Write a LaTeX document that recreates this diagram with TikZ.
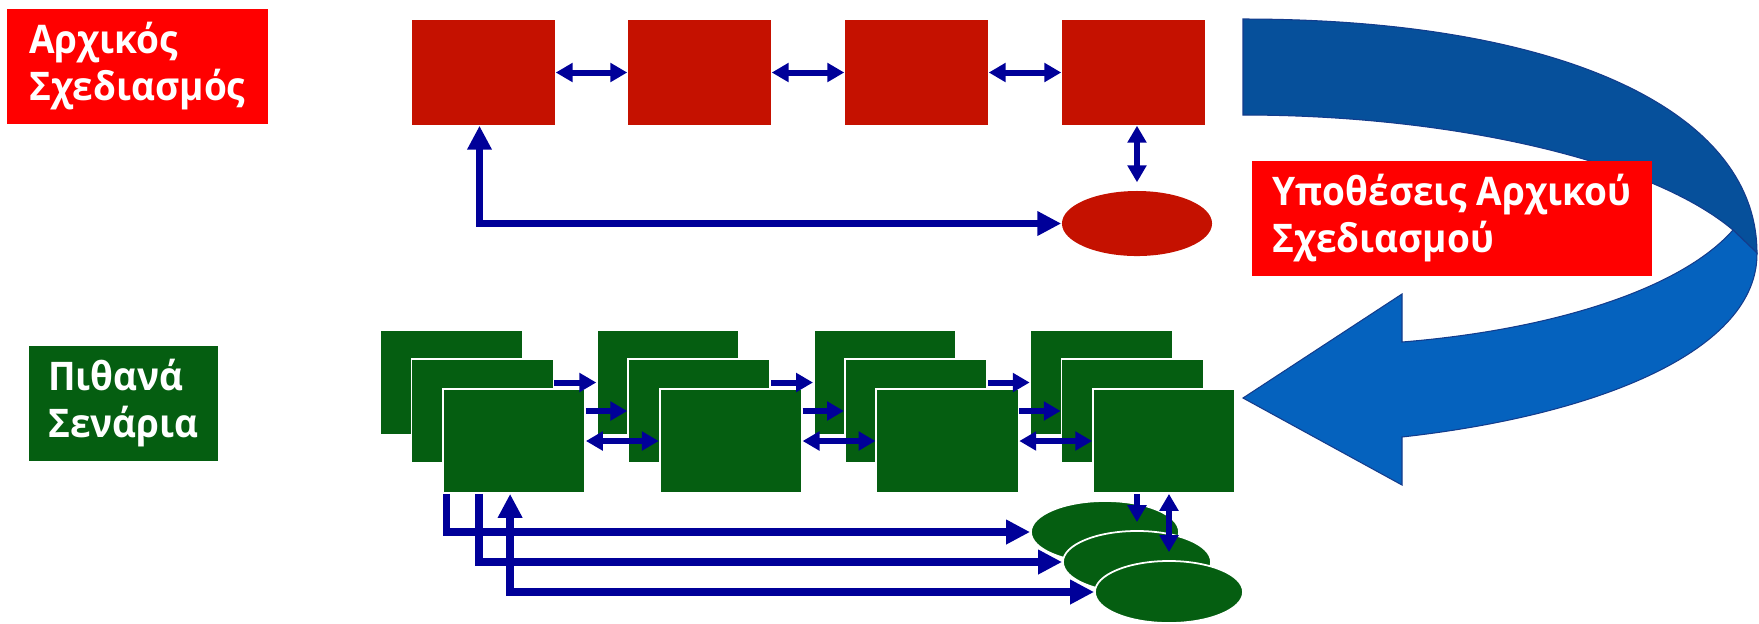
\documentclass[tikz,border=0pt]{standalone}
\usepackage{fontspec}
\setmainfont{Open Sans}[FakeStretch=0.94]
\usepackage{tikz}
\usetikzlibrary{arrows.meta,shapes.geometric}

\definecolor{navy}{RGB}{0,0,153}
\definecolor{lblred}{RGB}{255,0,0}
\definecolor{boxred}{RGB}{197,17,0}
\definecolor{scngreen}{RGB}{5,94,17}
\definecolor{banddark}{RGB}{6,80,155}
\definecolor{bandlight}{RGB}{5,98,190}
\definecolor{bandline}{RGB}{20,60,140}

\tikzset{
  redbox/.style={rectangle,fill=boxred,minimum width=1.43cm,minimum height=1.05cm,inner sep=0pt},
  grnbox/.style={rectangle,fill=scngreen,draw=white,line width=0.5pt,minimum width=1.42cm,minimum height=1.04cm,inner sep=0pt},
  redell/.style={ellipse,fill=boxred,minimum width=1.5cm,minimum height=0.65cm,inner sep=0pt},
  grnell/.style={ellipse,fill=scngreen,draw=white,line width=0.5pt,minimum width=1.48cm,minimum height=0.62cm,inner sep=0pt},
  lbl/.style={anchor=north west,text=white,align=left,inner sep=0pt,minimum height=1.15cm,
    font=\bfseries\fontsize{11.2}{13.4}\selectfont},
  arr/.style={draw=navy,line width=1.7pt,-{Triangle[length=4.8pt,width=5.2pt]}},
  darr/.style={draw=navy,line width=1.7pt,{Triangle[length=4.8pt,width=5.2pt]}-{Triangle[length=4.8pt,width=5.2pt]}},
  barr/.style={draw=navy,line width=2.2pt,-{Triangle[length=6.8pt,width=6.6pt]}},
  dbarr/.style={draw=navy,line width=2.2pt,{Triangle[length=6.8pt,width=6.6pt]}-{Triangle[length=6.8pt,width=6.6pt]}}
}

\begin{document}
\begin{tikzpicture}[x=0.01cm,y=-0.01cm]
  \useasboundingbox (0,0) rectangle (1759,623);

  % U-turn arrow
  \filldraw[fill=banddark,draw=bandline,line width=0.3pt] (1243,19) .. controls (1560,19) and (1757,110) .. (1757,253)
    -- (1733,230) .. controls (1650,160) and (1450,115) .. (1243,115) -- cycle;
  \filldraw[fill=bandlight,draw=bandline,line width=0.3pt] (1733,230) .. controls (1680,290) and (1550,330) .. (1402,342)
    -- (1402,294) -- (1243,398) -- (1402,485) -- (1402,437)
    .. controls (1600,415) and (1758,350) .. (1757,253) -- cycle;

  \node[lbl,fill=lblred,minimum width=2.61cm] (lblA) at (6,8) {Αρχικός\\Σχεδιασμός};
  \node[lbl,fill=lblred,minimum width=4.00cm] (lblB) at (1251,160) {Υποθέσεις Αρχικού\\Σχεδιασμού};
  \node[lbl,fill=scngreen,minimum width=1.89cm] (lblC) at (28,345) {Πιθανά\\Σενάρια};

  \node[redbox] (r1) at (483.5,72.5) {};
  \node[redbox] (r2) at (699.5,72.5) {};
  \node[redbox] (r3) at (916.5,72.5) {};
  \node[redbox] (r4) at (1133.5,72.5) {};
  \node[redell] (rh) at (1137,223.5) {};

  \draw[darr] (r1.east) -- (r2.west);
  \draw[darr] (r2.east) -- (r3.west);
  \draw[darr] (r3.east) -- (r4.west);
  \draw[darr] (rh.north |- r4.south) -- ([yshift=0.08cm]rh.north);
  \draw[dbarr] ([xshift=-0.04cm]r1.south) |- (rh.west);

  \node[grnbox] (g1b) at (451.5,382.5) {};
  \node[grnbox] (g1m) at (482.5,411) {};
  \node[grnbox] (g1f) at (514,441) {};
  \node[grnbox] (g2b) at (668.2,382.5) {};
  \node[grnbox] (g2m) at (699.2,411) {};
  \node[grnbox] (g2f) at (730.7,441) {};
  \node[grnbox] (g3b) at (884.9,382.5) {};
  \node[grnbox] (g3m) at (915.9,411) {};
  \node[grnbox] (g3f) at (947.4,441) {};
  \node[grnbox] (g4b) at (1101.6,382.5) {};
  \node[grnbox] (g4m) at (1132.6,411) {};
  \node[grnbox] (g4f) at (1164.1,441) {};

  \node[grnell] (e1) at (1105,532) {};
  \node[grnell] (e2) at (1137,562) {};
  \node[grnell] (e3) at (1169,592) {};

  \draw[arr] (g1m.east |- g2b.west) -- (g2b.west);
  \draw[arr] (g1f.east |- g2m.west) -- (g2m.west);
  \draw[darr] (g1f.east) -- (g2f.west);
  \draw[arr] (g2m.east |- g3b.west) -- (g3b.west);
  \draw[arr] (g2f.east |- g3m.west) -- (g3m.west);
  \draw[darr] (g2f.east) -- (g3f.west);
  \draw[arr] (g3m.east |- g4b.west) -- (g4b.west);
  \draw[arr] (g3f.east |- g4m.west) -- (g4m.west);
  \draw[darr] (g3f.east) -- (g4f.west);

  \draw[arr] (e2.north |- g4f.south) -- ([yshift=0.08cm]e2.north);
  \draw[darr] (e3.north |- g4f.south) -- ([yshift=0.08cm]e3.north);

  \draw[barr] ([xshift=0.045cm]g1f.south west) |- (e1.west);
  \draw[barr] ([xshift=0.37cm]g1f.south west) |- (e2.west);
  \draw[dbarr] ([xshift=0.68cm]g1f.south west) |- (e3.west);
\end{tikzpicture}
\end{document}
